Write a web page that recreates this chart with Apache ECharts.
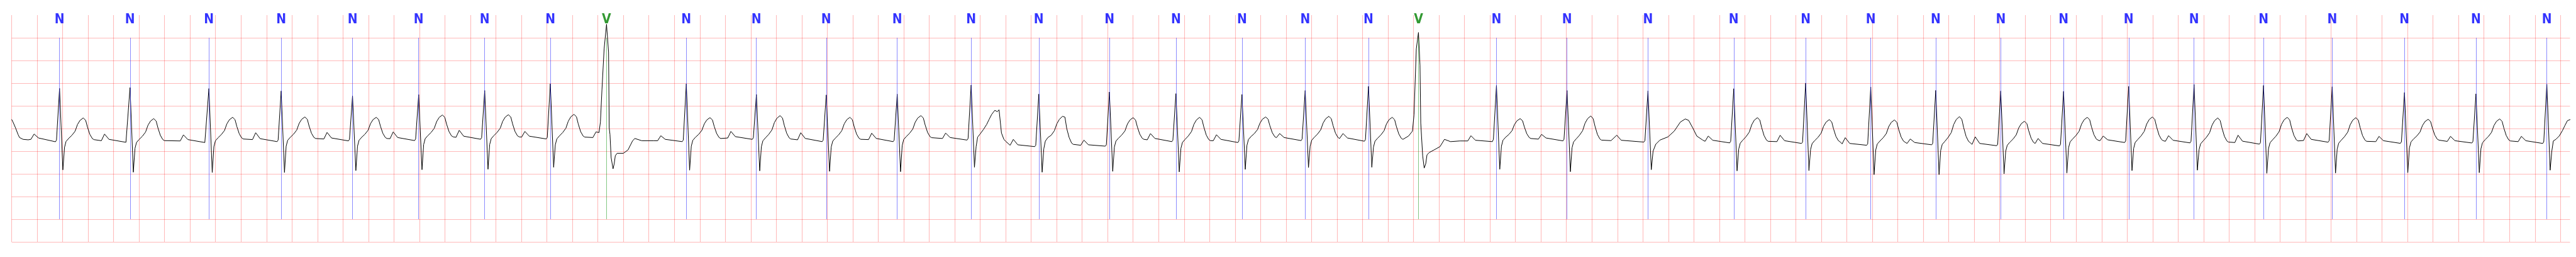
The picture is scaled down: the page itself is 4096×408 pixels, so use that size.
<!DOCTYPE html>
<html><head><meta charset="utf-8">
<script src="https://cdn.jsdelivr.net/npm/echarts@6/dist/echarts.min.js"></script>
<style>html,body{margin:0;padding:0;background:#fff}#c{width:4096px;height:408px}</style>
</head><body><div id="c"></div>
<script>
// Beat annotation times (s) and types
const beatTimes = [0.376, 0.929, 1.548, 2.115, 2.675, 3.194, 3.712, 4.227, 4.668, 5.294, 5.844, 6.392, 6.949, 7.529, 8.060, 8.614, 9.136, 9.654, 10.150, 10.647, 11.039, 11.651, 12.205, 12.840, 13.513, 14.077, 14.588, 15.098, 15.608, 16.101, 16.612, 17.125, 17.670, 18.209, 18.776, 19.337, 19.893];
const beatTypes = ['N','N','N','N','N','N','N','N','V','N','N','N','N','N','N','N','N','N','N','N','V','N','N','N','N','N','N','N','N','N','N','N','N','N','N','N','N'];

// Trace before the first beat: [time s, mV]
const leadIn = [[0,0.2],[0.011,0.14],[0.031,0.01],[0.05,-0.13],[0.062,-0.2],[0.09,-0.24],[0.13,-0.25]];

// Time offsets (s, relative to the beat) of the points of a normal beat
const nOffsets = [-0.225, -0.2, -0.165, -0.032, -0.024, 0, 0.026, 0.039, 0.051, 0.071, 0.097, 0.122, 0.141, 0.161, 0.186, 0.205, 0.219, 0.238, 0.257, 0.27];

// Per-beat values (mV) at nOffsets, or explicit [offset, mV] pairs for irregular beats
const beatShapes = [
  [-0.24,-0.123,-0.21,-0.293,-0.257,0.884,-0.913,-0.416,-0.286,-0.221,-0.150,-0.060,0.089,0.179,0.232,0.179,0.031,-0.131,-0.222,-0.246],
  [-0.27,-0.123,-0.24,-0.305,-0.28,0.902,-0.964,-0.438,-0.308,-0.243,-0.171,-0.079,0.072,0.164,0.217,0.164,0.013,-0.152,-0.244,-0.268],
  [-0.275,-0.141,-0.245,-0.31,-0.283,0.88,-0.971,-0.402,-0.272,-0.207,-0.136,-0.046,0.103,0.193,0.246,0.193,0.045,-0.117,-0.208,-0.232],
  [-0.245,-0.094,-0.225,-0.29,-0.257,0.826,-0.971,-0.391,-0.261,-0.196,-0.126,-0.036,0.112,0.202,0.254,0.202,0.055,-0.107,-0.197,-0.221],
  [-0.232,-0.087,-0.21,-0.274,-0.239,0.717,-0.928,-0.391,-0.261,-0.196,-0.128,-0.039,0.106,0.195,0.246,0.195,0.05,-0.109,-0.198,-0.221],
  [-0.225,-0.076,-0.2,-0.267,-0.232,0.746,-0.909,-0.355,-0.225,-0.16,-0.089,0.003,0.152,0.244,0.297,0.244,0.095,-0.069,-0.161,-0.185],
  [-0.195,-0.04,-0.17,-0.238,-0.203,0.837,-0.899,-0.355,-0.225,-0.16,-0.087,0.006,0.157,0.25,0.304,0.25,0.099,-0.068,-0.161,-0.185],
  [-0.19,-0.065,-0.17,-0.231,-0.196,0.986,-0.855,-0.36,-0.23,-0.165,-0.09,0.006,0.161,0.257,0.312,0.257,0.101,-0.07,-0.165,-0.19],
  [[-0.107,-0.2],[-0.083,-0.076],[-0.059,-0.09],[-0.048,0.141],[-0.036,0.848],[-0.019,1.75],[0,2.297],[0.016,1.68],[0.021,0.014],[0.027,-0.13],[0.036,-0.64],[0.051,-0.89],[0.06,-0.78],[0.069,-0.6],[0.083,-0.547],[0.132,-0.547],[0.168,-0.475],[0.204,-0.275],[0.222,-0.22],[0.276,-0.27],[0.372,-0.27]],
  [-0.27,-0.16,-0.24,-0.29,-0.257,0.986,-0.92,-0.391,-0.261,-0.196,-0.129,-0.042,0.101,0.188,0.239,0.188,0.046,-0.111,-0.198,-0.221],
  [-0.21,-0.065,-0.18,-0.24,-0.205,0.75,-0.935,-0.402,-0.272,-0.207,-0.129,-0.031,0.129,0.226,0.283,0.226,0.067,-0.108,-0.206,-0.232],
  [-0.25,-0.094,-0.22,-0.29,-0.257,0.739,-0.946,-0.409,-0.279,-0.214,-0.142,-0.05,0.101,0.193,0.246,0.193,0.042,-0.123,-0.215,-0.239],
  [-0.245,-0.105,-0.22,-0.29,-0.257,0.757,-0.953,-0.373,-0.243,-0.178,-0.106,-0.013,0.137,0.23,0.283,0.23,0.079,-0.086,-0.179,-0.203],
  [-0.221,-0.101,-0.2,-0.256,-0.221,0.957,-0.855,-0.4,-0.19,-0.12,-0.02,0.09,0.2,0.31,0.4,0.37,0.413,-0.1,-0.24,-0.28],
  [-0.37,-0.24,-0.36,-0.4,-0.37,0.757,-0.964,-0.45,-0.28,-0.2,-0.15,-0.05,0.1,0.2,0.268,0.25,0.0,-0.2,-0.32,-0.35],
  [-0.37,-0.257,-0.36,-0.39,-0.36,0.804,-0.946,-0.409,-0.279,-0.214,-0.143,-0.053,0.096,0.186,0.239,0.186,0.038,-0.124,-0.215,-0.239],
  [-0.25,-0.112,-0.22,-0.29,-0.257,0.768,-0.957,-0.438,-0.308,-0.243,-0.165,-0.068,0.092,0.189,0.246,0.189,0.03,-0.145,-0.242,-0.268],
  [-0.27,-0.138,-0.24,-0.31,-0.275,0.75,-0.902,-0.373,-0.243,-0.178,-0.112,-0.025,0.117,0.204,0.254,0.204,0.062,-0.093,-0.18,-0.203],
  [-0.225,-0.112,-0.2,-0.267,-0.232,0.837,-0.862,-0.391,-0.261,-0.196,-0.123,-0.03,0.121,0.214,0.268,0.214,0.063,-0.104,-0.197,-0.221],
  [-0.24,-0.112,-0.21,-0.281,-0.246,0.928,-0.855,-0.41,-0.28,-0.215,-0.143,-0.05,0.1,0.193,0.246,0.193,0.042,-0.123,-0.216,-0.24],
  [[-0.078,-0.167],[-0.047,-0.058],[-0.035,0.3],[-0.017,1.75],[0,2.116],[0.012,1.39],[0.018,0.123],[0.024,-0.167],[0.033,-0.6],[0.045,-0.873],[0.057,-0.78],[0.067,-0.58],[0.085,-0.53],[0.121,-0.475],[0.169,-0.4],[0.204,-0.24],[0.252,-0.29],[0.325,-0.275]],
  [-0.275,-0.16,-0.26,-0.29,-0.239,0.949,-0.899,-0.391,-0.261,-0.196,-0.133,-0.05,0.086,0.169,0.217,0.169,0.033,-0.116,-0.199,-0.221],
  [-0.235,-0.13,-0.21,-0.274,-0.239,0.837,-0.953,-0.427,-0.297,-0.232,-0.151,-0.05,0.115,0.216,0.275,0.216,0.052,-0.129,-0.23,-0.257],
  [[-0.29,-0.268],[-0.245,-0.149],[-0.21,-0.26],[-0.032,-0.3],[-0.024,-0.268],[0,0.83],[0.026,-0.909],[0.04,-0.5],[0.061,-0.348],[0.093,-0.257],[0.157,-0.185],[0.206,-0.058],[0.254,0.141],[0.293,0.21],[0.319,0.178],[0.351,0.014],[0.383,-0.167],[0.43,-0.257]],
  [-0.283,-0.167,-0.26,-0.318,-0.283,0.877,-0.935,-0.453,-0.323,-0.258,-0.179,-0.079,0.082,0.182,0.239,0.182,0.02,-0.158,-0.257,-0.283],
  [-0.29,-0.15,-0.27,-0.33,-0.3,1.0,-0.928,-0.463,-0.333,-0.268,-0.195,-0.102,0.049,0.142,0.196,0.142,-0.009,-0.176,-0.269,-0.293],
  [-0.34,-0.203,-0.33,-0.37,-0.34,0.913,-1.018,-0.474,-0.344,-0.279,-0.206,-0.112,0.04,0.134,0.188,0.134,-0.019,-0.186,-0.279,-0.304],
  [-0.33,-0.232,-0.31,-0.36,-0.33,0.84,-1.018,-0.48,-0.35,-0.287,-0.197,-0.089,0.089,0.198,0.261,0.198,0.02,-0.174,-0.283,-0.312],
  [-0.35,-0.185,-0.33,-0.38,-0.348,0.826,-1.0,-0.5,-0.37,-0.305,-0.232,-0.139,0.012,0.105,0.159,0.105,-0.046,-0.213,-0.306,-0.33],
  [-0.35,-0.221,-0.33,-0.385,-0.35,0.819,-0.982,-0.427,-0.297,-0.232,-0.156,-0.061,0.095,0.191,0.246,0.191,0.035,-0.136,-0.232,-0.257],
  [-0.27,-0.167,-0.25,-0.31,-0.275,0.928,-0.928,-0.438,-0.308,-0.243,-0.164,-0.064,0.097,0.197,0.254,0.197,0.035,-0.143,-0.242,-0.268],
  [-0.283,-0.159,-0.26,-0.318,-0.283,0.971,-0.92,-0.47,-0.34,-0.275,-0.194,-0.093,0.072,0.173,0.232,0.173,0.009,-0.172,-0.273,-0.3],
  [-0.31,-0.149,-0.28,-0.345,-0.312,0.949,-0.989,-0.445,-0.315,-0.25,-0.171,-0.072,0.09,0.189,0.246,0.189,0.027,-0.15,-0.249,-0.275],
  [-0.265,-0.112,-0.24,-0.303,-0.268,0.92,-0.982,-0.453,-0.323,-0.258,-0.179,-0.079,0.082,0.182,0.239,0.182,0.02,-0.158,-0.257,-0.283],
  [-0.29,-0.174,-0.27,-0.328,-0.293,0.793,-0.975,-0.427,-0.297,-0.232,-0.165,-0.078,0.065,0.152,0.203,0.152,0.01,-0.147,-0.234,-0.257],
  [-0.285,-0.174,-0.27,-0.32,-0.29,0.764,-0.975,-0.445,-0.315,-0.25,-0.178,-0.086,0.065,0.157,0.21,0.157,0.006,-0.159,-0.251,-0.275],
  [-0.29,-0.174,-0.27,-0.33,-0.293,0.975,-0.92,-0.5,-0.275,-0.24,-0.167,-0.05,0.06,0.17,0.2,0.15,0.0,-0.15,-0.25,-0.28]
];

// Axis settings
const xMin = 0, xMax = 20.075, xStep = 0.2;
const yMin = -2.5, yMax = 2.5, yStep = 0.5;
const markTop = 2.0, markBottom = -2.0, labelLevel = 2.394;
const typeColors = { N: '#0000ff', V: '#008000' };
const typeLineColors = { N: 'rgba(40,40,255,0.6)', V: 'rgba(0,140,0,0.55)' };

// Build the trace table
const trace = leadIn.slice();
beatTimes.forEach((t, i) => {
  const s = beatShapes[i];
  if (Array.isArray(s[0])) {
    s.forEach(p => trace.push([+(t + p[0]).toFixed(4), p[1]]));
  } else {
    s.forEach((v, k) => trace.push([+(t + nOffsets[k]).toFixed(4), v]));
  }
});

const labelData = beatTimes.map((t, i) => ({
  value: [t, labelLevel],
  label: { formatter: beatTypes[i], color: typeColors[beatTypes[i]] }
}));
const markData = beatTimes.map((t, i) => [
  { coord: [t, markTop], lineStyle: { color: typeLineColors[beatTypes[i]], width: 0.9, type: 'solid' } },
  { coord: [t, markBottom] }
]);

const gridLine = { show: true, showMinLine: true, showMaxLine: false, lineStyle: { color: 'rgba(255,0,0,0.27)', width: 1.1 } };

const chart = echarts.init(document.getElementById('c'), null, { renderer: 'canvas' });
chart.setOption({
  animation: false,
  backgroundColor: '#ffffff',
  grid: { left: 18.5, top: 23.9, width: 4068, height: 360.1, containLabel: false },
  xAxis: {
    type: 'value', min: xMin, max: xMax, interval: xStep,
    axisLine: { show: false }, axisTick: { show: false }, axisLabel: { show: false },
    splitLine: gridLine
  },
  yAxis: {
    type: 'value', min: yMin, max: yMax, interval: yStep,
    axisLine: { show: false }, axisTick: { show: false }, axisLabel: { show: false },
    splitLine: gridLine
  },
  series: [
    {
      type: 'scatter', z: 1, symbolSize: 0, silent: true, clip: false,
      data: labelData,
      label: {
        show: true, position: 'inside', verticalAlign: 'middle', align: 'center',
        fontSize: 21, fontWeight: 'bold',
        fontFamily: "'Liberation Sans Narrow', 'DejaVu Sans Condensed', 'Liberation Sans', sans-serif"
      },
      markLine: { silent: true, symbol: ['none', 'none'], label: { show: false }, animation: false, data: markData }
    },
    {
      type: 'line', z: 3, showSymbol: false, silent: true, clip: true,
      lineStyle: { color: '#000000', width: 1 },
      data: trace
    }
  ]
});
</script></body></html>
